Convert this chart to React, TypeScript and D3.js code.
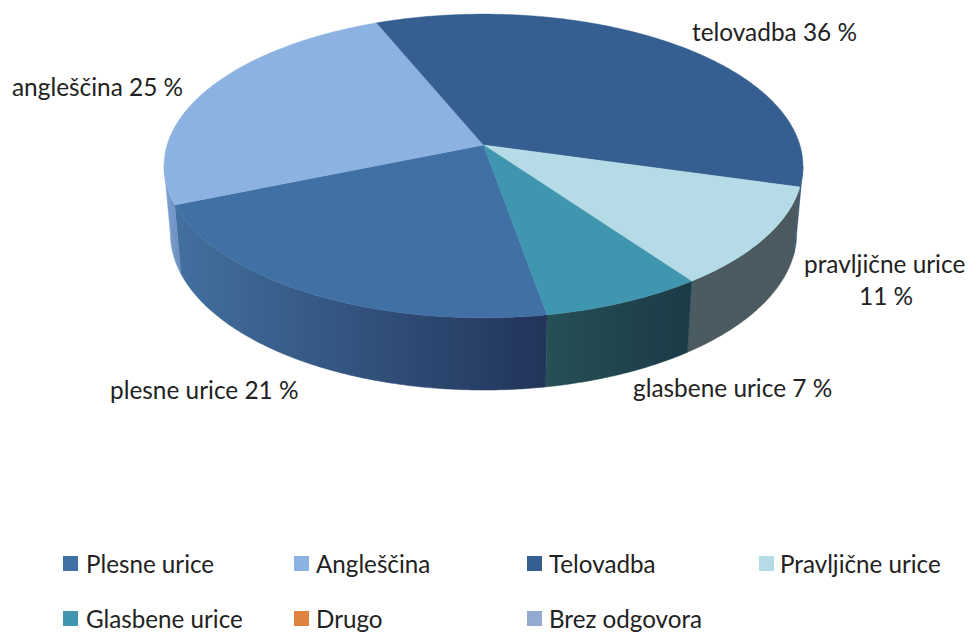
import React from 'react'
import * as d3 from 'd3'

const categories = ['Plesne urice', 'Angleščina', 'Telovadba', 'Pravljične urice', 'Glasbene urice', 'Drugo', 'Brez odgovora']
const shares = [21.55, 25, 35.6, 10.7, 7.15, 0, 0]
const colors = ['#4170a5', '#8cb2e2', '#365f91', '#b5dce6', '#3f96ae', '#df8240', '#94a9d2']

// side wall shading, left colour -> right colour
const sideLeft = ['#42709f', '#7fa3d2', '#2c4a70', '#4a5b61', '#264f56', '#000', '#000']
const sideRight = ['#22345a', '#6a8dbd', '#2c4a70', '#4b5a60', '#1b3a47', '#000', '#000']

const W = 969, H = 632

// perspective of the pie top
const CX = 483.5, CY = 145, A = 316.4, B = 149, K = 0.138
// bottom rim relative to the top rim
const SX = 0.98, SY = 1.03, DEPTH = 67

const toDeg = Math.PI / 180

function top(t: number): [number, number] {
  const u = Math.sin(t), v = -Math.cos(t)
  const w = 1 - K * v
  return [CX + (A * u) / w, CY + (B * v) / w]
}
function bottom(t: number): [number, number] {
  const [x, y] = top(t)
  return [CX + (x - CX) * SX, CY + (y - CY) * SY + DEPTH]
}

const line = d3.line()

function samples(a0: number, a1: number) {
  const n = Math.max(2, Math.ceil(Math.abs(a1 - a0) / (0.5 * toDeg)))
  return d3.range(n + 1).map(i => a0 + ((a1 - a0) * i) / n)
}

const arcs = d3.pie<number>().sort(null).startAngle(170 * toDeg).endAngle(530 * toDeg)(shares)

// only this part of the rim faces the viewer
const VIS0 = 98 * toDeg, VIS1 = 262 * toDeg

function sides() {
  const out: { i: number; d: string; x0: number; x1: number }[] = []
  arcs.forEach((a, i) => {
    if (a.endAngle - a.startAngle <= 0) return
    // try the arc both as is and wrapped one turn back
    ;[0, -2 * Math.PI].forEach(off => {
      const s = Math.max(a.startAngle + off, VIS0)
      const e = Math.min(a.endAngle + off, VIS1)
      if (e <= s) return
      const ts = samples(s, e)
      const pts = [...ts.map(top), ...ts.slice().reverse().map(bottom)]
      const xs = pts.map(p => p[0])
      out.push({ i, d: line(pts as [number, number][]) + 'Z', x0: d3.min(xs)!, x1: d3.max(xs)! })
    })
  })
  return out
}

function slicePath(a0: number, a1: number) {
  const pts = [[CX, CY] as [number, number], ...samples(a0, a1).map(top)]
  return line(pts) + 'Z'
}

const sideShapes = sides()

const legendCols = [63, 294, 527, 759]
const legendTextX = [86, 316, 549, 780]
const legendRows = [556, 611]
const font = 'Lato, "Open Sans", sans-serif'

const labels = [
  { text: 'telovadba 36 %', x: 692, y: 41 },
  { text: 'angleščina 25 %', x: 12, y: 96 },
  { text: 'pravljične urice', x: 804, y: 273 },
  { text: '11 %', x: 859, y: 305 },
  { text: 'glasbene urice 7 %', x: 633, y: 397 },
  { text: 'plesne urice 21 %', x: 110, y: 399 },
]

export default function App() {
  return (
    <svg width={W} height={H} style={{ position: 'absolute', left: 0, top: 0, background: '#fff' }} fontFamily={font}>
      <defs>
        {sideShapes.map((s, k) => (
          <linearGradient key={k} id={'side' + k} gradientUnits="userSpaceOnUse" x1={s.x0} x2={s.x1} y1={0} y2={0}>
            <stop offset="0" stopColor={sideLeft[s.i]} />
            <stop offset="1" stopColor={sideRight[s.i]} />
          </linearGradient>
        ))}
      </defs>

      {sideShapes.map((s, k) => (
        <path key={k} d={s.d} fill={`url(#side${k})`} stroke={`url(#side${k})`} strokeWidth={0.5} />
      ))}

      {arcs.map((a, i) =>
        a.endAngle > a.startAngle ? (
          <path key={i} d={slicePath(a.startAngle, a.endAngle)} fill={colors[i]} stroke={colors[i]} strokeWidth={0.4} />
        ) : null
      )}

      {labels.map(l => (
        <text key={l.text} x={l.x} y={l.y} fontSize={24.4} fill="#222">{l.text}</text>
      ))}

      {categories.map((c, i) => {
        const col = i < 4 ? i : i - 4
        const row = i < 4 ? 0 : 1
        return (
          <g key={c}>
            <rect x={legendCols[col]} y={legendRows[row]} width={15} height={15} fill={colors[i]} />
            <text x={legendTextX[col]} y={legendRows[row] + 17} fontSize={24.2} fill="#222">{c}</text>
          </g>
        )
      })}
    </svg>
  )
}
